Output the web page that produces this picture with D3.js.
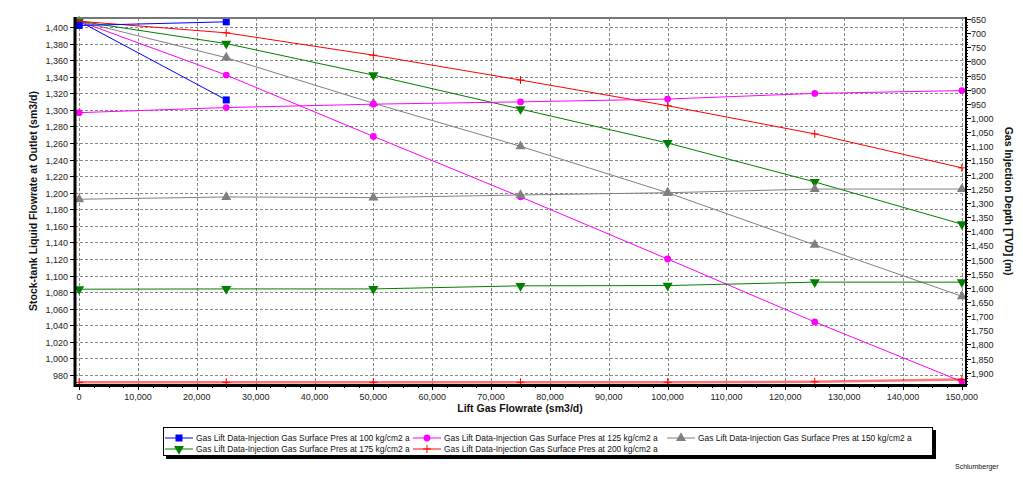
<!DOCTYPE html>
<html>
<head>
<meta charset="utf-8">
<script src="https://cdn.jsdelivr.net/npm/d3@7"></script>
<style>
  html, body { margin: 0; padding: 0; background: #fff; }
  svg { display: block; font-family: "Liberation Sans", Arial, sans-serif; }
</style>
</head>
<body>
<svg id="chart" width="1023" height="479"></svg>
<script>
// ---------------- data ----------------
const gasRates = [0, 25000, 50000, 75000, 100000, 125000, 150000];
const pressureLabels = ["100", "125", "150", "175", "200"];
const liquid100 = [1407, 1312];
const depth100 = [673, 660];
const liquid125 = [1407, 1342, 1268, 1195, 1120, 1044, 972];
const depth125 = [981, 963, 951, 943, 933, 913, 903];
const liquid150 = [1407, 1363, 1308, 1256, 1200, 1137, 1075];
const depth150 = [1287, 1279, 1281, 1272, 1264, 1251, 1251];
const liquid175 = [1407, 1380, 1342, 1301, 1260, 1213, 1162];
const depth175 = [1605, 1604, 1604, 1593, 1592, 1580, 1580];
const liquid200 = [1407, 1393, 1366, 1336, 1305, 1271, 1230];
const depth200 = [1934, 1934, 1934, 1934, 1934, 1932, 1924];
const xTicks = d3.range(0, 150001, 10000);
const leftTicks = d3.range(980, 1401, 20);
const rightTicks = d3.range(650, 1901, 50);
const xTitle = "Lift Gas Flowrate (sm3/d)";
const leftTitle = "Stock-tank Liquid Flowrate at Outlet (sm3/d)";
const rightTitle = "Gas Injection Depth [TVD] (m)";

const colors = ["#0000ff", "#ff00ff", "#808080", "#008000", "#ff0000"];
const symbols = [d3.symbolSquare, d3.symbolCircle, d3.symbolTriangle, "triDown", d3.symbolCross2];
const liquids = [liquid100, liquid125, liquid150, liquid175, liquid200];
const depths = [depth100, depth125, depth150, depth175, depth200];

// ---------------- layout ----------------
const L = 75, R = 966, T = 18, B = 385;
const svg = d3.select("#chart");
svg.append("rect").attr("width", 1023).attr("height", 479).attr("fill", "#fff");

const x = d3.scaleLinear().domain([-700, 150700]).range([L, R]);
const yL = d3.scaleLinear().domain([967.9, 1410.9]).range([B, T]);
const yR = d3.scaleLinear().domain([646.5, 1943.5]).range([T, B]);

// grid
const grid = svg.append("g").attr("stroke", "#888").attr("stroke-width", 1).attr("stroke-dasharray", "3,2");
xTicks.forEach(v => grid.append("line").attr("x1", Math.round(x(v)) + 0.5).attr("x2", Math.round(x(v)) + 0.5).attr("y1", T).attr("y2", B));
leftTicks.forEach(v => grid.append("line").attr("x1", L).attr("x2", R).attr("y1", Math.round(yL(v)) + 0.5).attr("y2", Math.round(yL(v)) + 0.5));

// marker drawing
function marker(g, i, cx, cy) {
  const col = colors[i];
  if (symbols[i] === "triDown") {
    g.append("path").attr("d", d3.symbol().type(d3.symbolTriangle).size(44)())
      .attr("transform", `translate(${cx},${cy}) rotate(180)`).attr("fill", col);
  } else if (symbols[i] === d3.symbolCross2) {
    g.append("path").attr("d", `M${cx - 4},${cy}H${cx + 4}M${cx},${cy - 4}V${cy + 4}`)
      .attr("stroke", col).attr("stroke-width", 1).attr("fill", "none");
  } else if (symbols[i] === d3.symbolSquare) {
    g.append("path").attr("d", d3.symbol().type(d3.symbolSquare).size(49)())
      .attr("transform", `translate(${cx},${cy})`).attr("fill", col);
  } else if (symbols[i] === d3.symbolCircle) {
    g.append("path").attr("d", d3.symbol().type(d3.symbolCircle).size(36)())
      .attr("transform", `translate(${cx},${cy})`).attr("fill", col);
  } else {
    g.append("path").attr("d", d3.symbol().type(d3.symbolTriangle).size(44)())
      .attr("transform", `translate(${cx},${cy})`).attr("fill", col);
  }
}

const plot = svg.append("g");
function drawSeries(vals, scale, i, width, opacity) {
  const pts = vals.map((v, k) => [x(gasRates[k]), scale(v)]);
  plot.append("path").attr("d", d3.line()(pts)).attr("fill", "none")
    .attr("stroke", colors[i]).attr("stroke-width", width || 1)
    .attr("stroke-opacity", opacity || 1);
  pts.forEach(p => marker(plot, i, p[0], p[1]));
}
liquids.forEach((s, i) => drawSeries(s, yL, i));
depths.forEach((s, i) => drawSeries(s, yR, i, i === 4 ? 2.5 : 1, i === 4 ? 0.55 : 1));

// axes
const axG = svg.append("g").attr("font-size", 9).attr("fill", "#222");
svg.append("line").attr("x1", L).attr("x2", R).attr("y1", T).attr("y2", T).attr("stroke", "#777").attr("stroke-width", 2);
leftTicks.forEach(v => {
  const yy = Math.round(yL(v)) + 0.5;
  axG.append("line").attr("x1", L - 5).attr("x2", L).attr("y1", yy).attr("y2", yy).attr("stroke", "#000");
  axG.append("text").attr("x", L - 7).attr("y", yy).attr("dy", "0.35em").attr("text-anchor", "end").text(d3.format(",")(v));
});
d3.range(650, 1941, 10).forEach(v => {
  const yy = Math.round(yR(v)) + 0.5;
  const major = v % 50 === 0;
  axG.append("line").attr("x1", R).attr("x2", R + (major ? 5 : 2)).attr("y1", yy).attr("y2", yy).attr("stroke", "#000");
});
rightTicks.forEach(v => {
  const yy = Math.round(yR(v)) + 0.5;
  axG.append("text").attr("x", R + 5).attr("y", yy).attr("dy", "0.35em").attr("text-anchor", "start").text(d3.format(",")(v));
});
d3.range(0, 150001, 2500).forEach(v => {
  const xx = Math.round(x(v)) + 0.5;
  const major = v % 10000 === 0;
  axG.append("line").attr("x1", xx).attr("x2", xx).attr("y1", B).attr("y2", B + (major ? 5 : 3)).attr("stroke", "#000");
});
xTicks.forEach(v => {
  axG.append("text").attr("x", x(v)).attr("y", B + 15).attr("text-anchor", "middle").text(d3.format(",")(v));
});
svg.append("line").attr("x1", L).attr("x2", L).attr("y1", T - 1).attr("y2", B + 2).attr("stroke", "#000").attr("stroke-width", 3);
svg.append("line").attr("x1", L).attr("x2", R + 1).attr("y1", B + 0.5).attr("y2", B + 0.5).attr("stroke", "#000").attr("stroke-width", 3);
svg.append("line").attr("x1", R).attr("x2", R).attr("y1", T - 1).attr("y2", B + 2).attr("stroke", "#000").attr("stroke-width", 2);

// titles
svg.append("text").attr("x", 520).attr("y", 412).attr("text-anchor", "middle")
  .attr("font-size", 10.5).attr("font-weight", "bold").attr("fill", "#111").text(xTitle);
svg.append("text").attr("transform", "translate(37,201) rotate(-90)").attr("text-anchor", "middle")
  .attr("font-size", 10.5).attr("font-weight", "bold").attr("fill", "#111").text(leftTitle);
svg.append("text").attr("transform", "translate(1005,201) rotate(90)").attr("text-anchor", "middle")
  .attr("font-size", 10.5).attr("font-weight", "bold").attr("fill", "#111").text(rightTitle);

// legend
const lg = svg.append("g");
lg.append("rect").attr("x", 166).attr("y", 430).attr("width", 770).attr("height", 29).attr("fill", "#000");
lg.append("rect").attr("x", 163.5).attr("y", 427.5).attr("width", 769).attr("height", 28).attr("fill", "#fff").attr("stroke", "#000");
const colX = [165, 413, 667];
const rowY = [438, 449];
pressureLabels.forEach((p, i) => {
  const cx = colX[i % 3], cy = rowY[Math.floor(i / 3)];
  lg.append("line").attr("x1", cx).attr("x2", cx + 28).attr("y1", cy).attr("y2", cy).attr("stroke", colors[i]);
  marker(lg, i, cx + 14, cy);
  const t = lg.append("text").attr("x", cx + 31).attr("y", cy).attr("dy", "0.35em")
    .attr("font-size", 10).attr("fill", "#111")
    .text(`Gas Lift Data-Injection Gas Surface Pres at ${p} kg/cm2 a`);
  const w = t.node().getComputedTextLength();
  t.attr("font-size", 10 * 214 / w);
});

svg.append("text").attr("x", 955).attr("y", 469).attr("font-size", 7).attr("fill", "#111").text("Schlumberger");
</script>
</body>
</html>
